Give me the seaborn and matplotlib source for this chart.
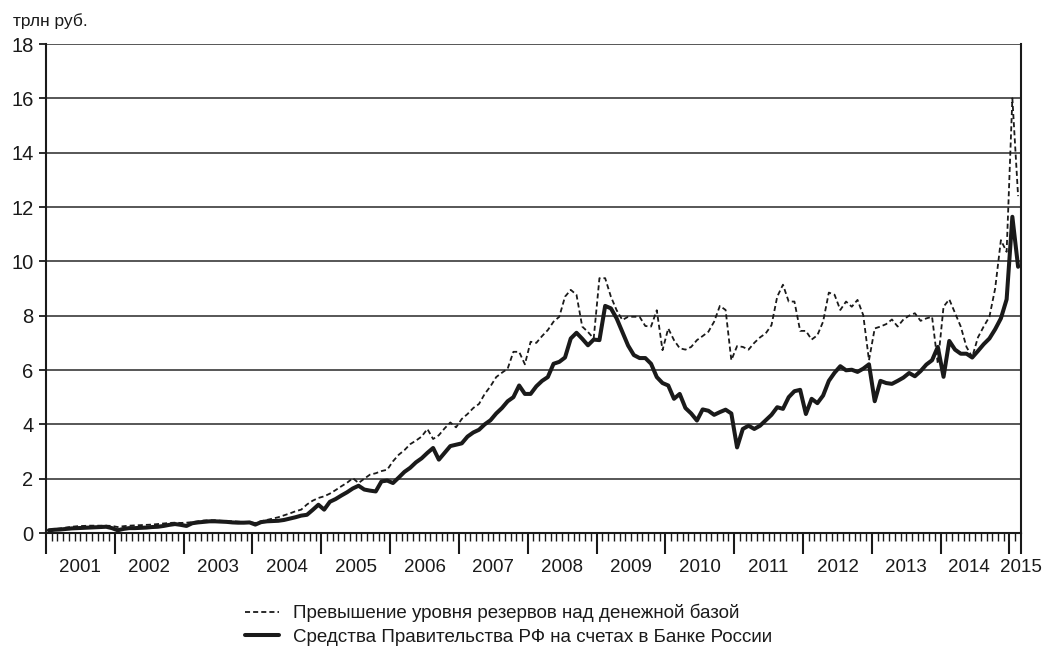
import numpy as np
import pandas as pd
import matplotlib
matplotlib.use('Agg')
import matplotlib.pyplot as plt
import matplotlib.transforms as mtransforms
import seaborn as sns

# Monthly data, Jan 2001 - Feb 2015, trln rub.
excess = [
    0.12, 0.14, 0.17, 0.20, 0.23, 0.25, 0.26, 0.27, 0.27, 0.27, 0.27, 0.26,  # 2001
    0.22, 0.25, 0.27, 0.28, 0.29, 0.30, 0.31, 0.33, 0.35, 0.37, 0.38, 0.37,  # 2002
    0.38, 0.40, 0.43, 0.46, 0.47, 0.47, 0.45, 0.44, 0.43, 0.42, 0.40, 0.40,  # 2003
    0.37, 0.43, 0.48, 0.53, 0.58, 0.65, 0.72, 0.80, 0.86, 1.05, 1.19, 1.29,  # 2004
    1.35, 1.45, 1.58, 1.72, 1.85, 2.02, 1.84, 2.00, 2.15, 2.20, 2.28, 2.33,  # 2005
    2.64, 2.88, 3.05, 3.27, 3.40, 3.55, 3.83, 3.46, 3.60, 3.85, 4.07, 3.89,  # 2006
    4.20, 4.38, 4.60, 4.75, 5.12, 5.40, 5.74, 5.90, 6.05, 6.67, 6.67, 6.21,  # 2007
    7.04, 7.00, 7.25, 7.47, 7.78, 7.96, 8.70, 8.95, 8.77, 7.60, 7.40, 7.16,  # 2008
    9.38, 9.38, 8.70, 8.20, 7.84, 7.96, 7.96, 7.96, 7.62, 7.60, 8.20, 6.73,  # 2009
    7.53, 7.10, 6.80, 6.75, 6.85, 7.10, 7.25, 7.41, 7.78, 8.36, 8.21, 6.36,  # 2010
    6.88, 6.85, 6.75, 7.00, 7.20, 7.35, 7.65, 8.70, 9.14, 8.52, 8.52, 7.44,  # 2011
    7.44, 7.12, 7.28, 7.78, 8.85, 8.77, 8.21, 8.52, 8.33, 8.58, 8.02, 6.36,  # 2012
    7.53, 7.60, 7.69, 7.86, 7.60, 7.86, 8.00, 8.09, 7.81, 7.90, 7.96, 6.23,  # 2013
    8.33, 8.60, 8.10, 7.60, 6.85, 6.48, 7.20, 7.60, 7.96, 9.00, 10.78, 10.35,  # 2014
    16.00, 12.40,  # 2015
]
gov = [
    0.10, 0.12, 0.13, 0.15, 0.17, 0.18, 0.19, 0.20, 0.21, 0.22, 0.23, 0.18,  # 2001
    0.10, 0.15, 0.18, 0.18, 0.19, 0.20, 0.22, 0.23, 0.26, 0.30, 0.33, 0.30,  # 2002
    0.26, 0.36, 0.39, 0.41, 0.43, 0.43, 0.42, 0.41, 0.39, 0.38, 0.38, 0.39,  # 2003
    0.31, 0.40, 0.43, 0.44, 0.45, 0.48, 0.53, 0.58, 0.64, 0.67, 0.85, 1.04,  # 2004
    0.86, 1.15, 1.25, 1.38, 1.50, 1.64, 1.74, 1.60, 1.56, 1.53, 1.90, 1.93,  # 2005
    1.84, 2.04, 2.25, 2.40, 2.60, 2.75, 2.95, 3.13, 2.70, 2.95, 3.20, 3.25,  # 2006
    3.30, 3.55, 3.70, 3.80, 4.00, 4.15, 4.40, 4.60, 4.85, 5.00, 5.43, 5.12,  # 2007
    5.12, 5.40, 5.60, 5.74, 6.23, 6.30, 6.46, 7.16, 7.37, 7.15, 6.91, 7.12,  # 2008
    7.10, 8.36, 8.27, 7.90, 7.40, 6.90, 6.55, 6.44, 6.44, 6.23, 5.74, 5.52,  # 2009
    5.43, 4.94, 5.12, 4.60, 4.40, 4.14, 4.55, 4.50, 4.35, 4.45, 4.54, 4.40,  # 2010
    3.15, 3.83, 3.95, 3.83, 3.95, 4.15, 4.35, 4.63, 4.57, 5.00, 5.22, 5.27,  # 2011
    4.38, 4.94, 4.78, 5.06, 5.60, 5.90, 6.14, 5.99, 6.01, 5.93, 6.05, 6.21,  # 2012
    4.85, 5.60, 5.52, 5.49, 5.60, 5.72, 5.89, 5.77, 5.96, 6.20, 6.36, 6.85,  # 2013
    5.75, 7.07, 6.75, 6.60, 6.60, 6.46, 6.70, 6.95, 7.16, 7.50, 7.90, 8.60,  # 2014
    11.64, 9.80,  # 2015
]
years = [str(y) for y in range(2001, 2016)]

label_excess = 'Превышение уровня резервов над денежной базой'
label_gov = 'Средства Правительства РФ на счетах в Банке России'

df = pd.DataFrame({'month': np.arange(len(gov)) + 0.5, 'excess': excess, 'gov': gov})
n_months = 12 * (len(years) - 1) + 2

sns.set_style('white')
plt.rcParams['font.family'] = ['Liberation Sans', 'DejaVu Sans']

fig = plt.figure(figsize=(10.45, 6.52), dpi=100)
ax = fig.add_axes([0.044, 0.1825, 0.933, 0.75])

ink = '#1a1a1a'
sns.lineplot(data=df, x='month', y='excess', ax=ax, color=ink, lw=1.3,
             label=label_excess)
ax.lines[-1].set_dashes((2.8, 1.7))
sns.lineplot(data=df, x='month', y='gov', ax=ax, color=ink, lw=2.9,
             label=label_gov)

ax.set_xlim(0, n_months)
ax.set_ylim(0, 18)
ax.set_yticks(range(0, 19, 2))
ax.yaxis.grid(True, color='#3a3a3a', lw=1.2)
ax.set_axisbelow(True)
ax.set_xlabel('')
ax.set_ylabel('')

for s in ax.spines.values():
    s.set_color(ink)
    s.set_linewidth(1.5)
ax.spines['top'].set_visible(False)

# year ticks and month ticks
major = list(range(0, n_months - 1, 12)) + [n_months]
ax.set_xticks(major)
ax.set_xticklabels([''] * len(major))
ax.set_xticks([m for m in range(1, n_months) if m % 12], minor=True)
ax.tick_params(axis='x', which='major', bottom=True, direction='out', length=15,
               width=1.5, color=ink)
ax.tick_params(axis='x', which='minor', bottom=True, direction='out', length=6,
               width=1.0, color=ink)
ax.tick_params(axis='y', which='major', left=True, direction='out', length=5,
               width=1.3, color=ink, labelsize=14.5, pad=4, labelcolor=ink)

trans = mtransforms.blended_transform_factory(ax.transData, ax.transAxes)
for k, yr in enumerate(years):
    if k < len(years) - 2:
        xpos = 12 * k + 6
    elif k == len(years) - 2:
        xpos = 12 * k + 5
    else:
        xpos = n_months
    ax.text(xpos, -0.07, yr, transform=trans, ha='center', va='center',
            fontsize=13.5, color=ink)

fig.text(0.012, 0.98, 'трлн руб.', ha='left', va='top', fontsize=12.5, color=ink)

handles, labels = ax.get_legend_handles_labels()
ax.get_legend().remove()
fig.legend(handles, labels, loc='center left', bbox_to_anchor=(245 / 1045, 1 - 625 / 652),
           frameon=False, fontsize=13.5, handlelength=1.8, handletextpad=0.75,
           labelspacing=0.35, borderpad=0, borderaxespad=0, labelcolor=ink)

fig.savefig('out.png', dpi=100)
